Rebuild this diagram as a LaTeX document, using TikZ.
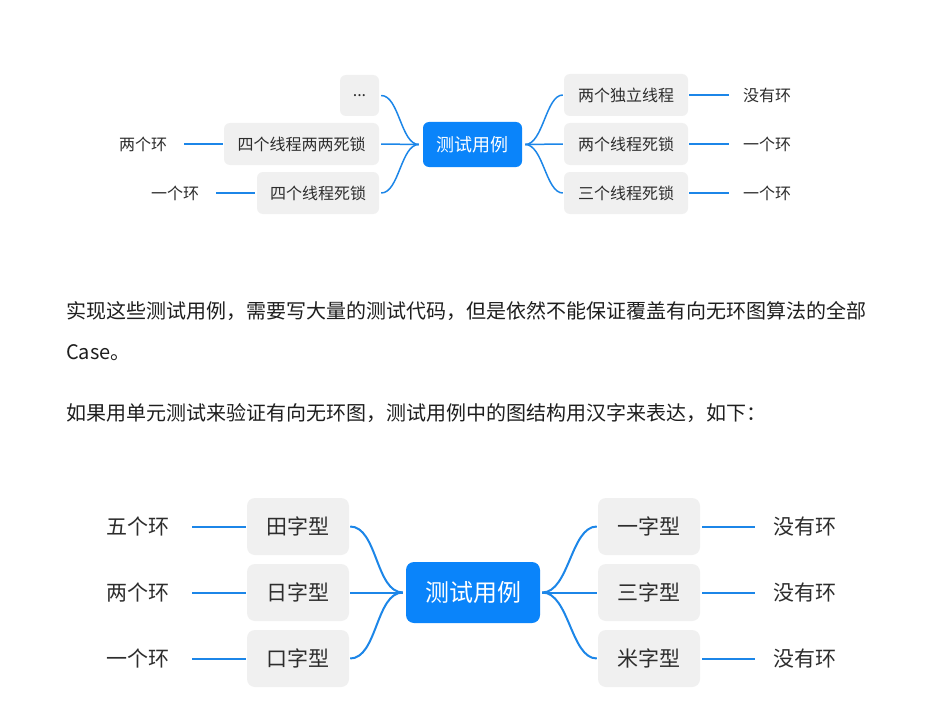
\documentclass[tikz,border=0pt]{standalone}
\usepackage{fontspec}
\setmainfont{Noto Sans CJK SC}
\definecolor{boxgray}{RGB}{240,240,240}
\definecolor{mainblue}{RGB}{10,132,250}
\definecolor{linkblue}{RGB}{28,134,232}
\definecolor{txt}{RGB}{45,45,45}
\definecolor{para}{RGB}{30,30,30}
\tikzset{
  sbox/.style={fill=boxgray, rounded corners=6pt, inner sep=0pt, text=txt, font=\fontsize{16}{16}\selectfont},
  scen/.style={fill=mainblue, rounded corners=6pt, inner sep=0pt, text=white, font=\fontsize{18}{18}\selectfont},
  stxt/.style={inner sep=0pt, text=txt, font=\fontsize{16}{16}\selectfont},
  slink/.style={draw=linkblue, line width=1.5pt},
  bbox/.style={fill=boxgray, rounded corners=8pt, inner sep=0pt, text=txt, font=\fontsize{21}{21}\selectfont, minimum width=102pt, minimum height=57pt},
  bcen/.style={fill=mainblue, rounded corners=8pt, inner sep=0pt, text=white, font=\fontsize{24}{24}\selectfont},
  btxt/.style={inner sep=0pt, text=txt, font=\fontsize{21}{21}\selectfont},
  blink/.style={draw=linkblue, line width=2pt},
  ptxt/.style={inner sep=0pt, anchor=west, text=para, font=\fontsize{20}{20}\selectfont}
}
\begin{document}
\begin{tikzpicture}[x=1pt,y=-1pt]
\useasboundingbox[fill=white] (0,0) rectangle (930,725);

% ---------- top mind map ----------
\node[scen, minimum width=99pt, minimum height=45pt] (c1) at (472.5,144.5) {测试用例};
\coordinate (c1w) at ([xshift=-4pt]c1.west);
\coordinate (c1e) at ([xshift=3pt]c1.east);

\node[sbox, minimum width=39pt, minimum height=41pt] (d) at (359.5,95.5) {...};
\node[sbox, minimum width=155pt, minimum height=42pt] (l1) at (301.5,144) {四个线程两两死锁};
\node[sbox, minimum width=122pt, minimum height=42pt] (l2) at (318,193) {四个线程死锁};

\node[sbox, minimum width=124pt, minimum height=42pt] (r1) at (626,95) {两个独立线程};
\node[sbox, minimum width=124pt, minimum height=42pt] (r2) at (626,144) {两个线程死锁};
\node[sbox, minimum width=124pt, minimum height=42pt] (r3) at (626,193) {三个线程死锁};

\node[stxt] (tl1) at (143,144) {两个环};
\node[stxt] (tl2) at (175,193) {一个环};
\node[stxt] (tr1) at (767,95) {没有环};
\node[stxt] (tr2) at (767,144) {一个环};
\node[stxt] (tr3) at (767,193) {一个环};

\foreach \n in {d,l1,l2}{
  \draw[slink] ([xshift=2pt]\n.east) .. controls +(18,0) and ([xshift=-18pt]c1w) .. (c1w);
}
\foreach \n in {r1,r2,r3}{
  \draw[slink] (c1e) .. controls +(18,0) and ([xshift=-18pt]\n.west) .. ([xshift=-1pt]\n.west);
}
\draw[slink] ([xshift=-1pt]l1.west) -- ([xshift=17pt]tl1.east);
\draw[slink] ([xshift=-2pt]l2.west) -- ([xshift=17pt]tl2.east);
\draw[slink] ([xshift=1pt]r1.east) -- ([xshift=-14pt]tr1.west);
\draw[slink] ([xshift=1pt]r2.east) -- ([xshift=-14pt]tr2.west);
\draw[slink] ([xshift=1pt]r3.east) -- ([xshift=-14pt]tr3.west);

% ---------- paragraph ----------
\node[ptxt] (p1) at (66,311) {实现这些测试用例，需要写大量的测试代码，但是依然不能保证覆盖有向无环图算法的全部};
\node[ptxt] (p2) at (66,353) {Case。};
\node[ptxt] (p3) at (66,413) {如果用单元测试来验证有向无环图，测试用例中的图结构用汉字来表达，如下：};

% ---------- bottom mind map ----------
\node[bcen, minimum width=134pt, minimum height=61pt] (c2) at (473,592.5) {测试用例};
\coordinate (c2w) at ([xshift=-3pt]c2.west);
\coordinate (c2e) at ([xshift=2pt]c2.east);

\node[bbox] (b1) at (298,526.5) {田字型};
\node[bbox] (b2) at (298,592.5) {日字型};
\node[bbox] (b3) at (298,658.5) {口字型};
\node[bbox] (e1) at (649,526.5) {一字型};
\node[bbox] (e2) at (649,592.5) {三字型};
\node[bbox] (e3) at (649,658.5) {米字型};

\node[btxt] (u1) at (138,526.5) {五个环};
\node[btxt] (u2) at (138,592.5) {两个环};
\node[btxt] (u3) at (138,658.5) {一个环};
\node[btxt] (v1) at (805,526.5) {没有环};
\node[btxt] (v2) at (805,592.5) {没有环};
\node[btxt] (v3) at (805,658.5) {没有环};

\foreach \n in {b1,b2,b3}{
  \draw[blink] ([xshift=1pt]\n.east) .. controls +(27,0) and ([xshift=-27pt]c2w) .. (c2w);
}
\foreach \n in {e1,e2,e3}{
  \draw[blink] (c2e) .. controls +(27,0) and ([xshift=-27pt]\n.west) .. ([xshift=-1pt]\n.west);
}
\foreach \a/\b in {b1/u1,b2/u2,b3/u3}{
  \draw[blink] ([xshift=-1pt]\a.west) -- ([xshift=22pt]\b.east);
}
\foreach \a/\b in {e1/v1,e2/v2,e3/v3}{
  \draw[blink] ([xshift=2pt]\a.east) -- ([xshift=-18pt]\b.west);
}
\end{tikzpicture}
\end{document}
